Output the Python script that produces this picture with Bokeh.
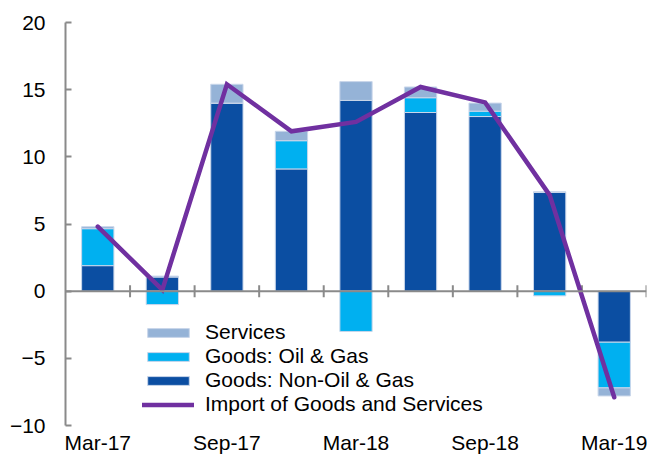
import numpy as np
from bokeh.plotting import figure
from bokeh.models import (Range1d, FixedTicker, Span, Legend, LegendItem,
                          ColumnDataSource)
from bokeh.embed import file_html
from bokeh.resources import INLINE

# ---- data ----
quarters = ["Mar-17", "Jun-17", "Sep-17", "Dec-17", "Mar-18",
            "Jun-18", "Sep-18", "Dec-18", "Mar-19"]
non_oil_gas = [1.9, 1.05, 14.0, 9.1, 14.2, 13.3, 13.0, 7.35, -3.8]
oil_gas = [2.75, -1.0, 0.0, 2.1, -3.0, 1.1, 0.4, -0.35, -3.4]
services = [0.15, 0.07, 1.4, 0.7, 1.4, 0.8, 0.6, 0.05, -0.6]
imports_total = [4.8, 0.1, 15.4, 11.9, 12.6, 15.2, 14.05, 7.15, -7.9]
shown_labels = ["Mar-17", "Sep-17", "Mar-18", "Sep-18", "Mar-19"]

series_names = ["Goods: Non-Oil & Gas", "Goods: Oil & Gas", "Services"]
series_values = [non_oil_gas, oil_gas, services]
series_colors = ["#0b4ea2", "#00b0f0", "#95b3d7"]

FONT = "Liberation Sans"
FS = "21px"
GRAY = "#8a8a8a"

n = len(quarters)
xs = np.arange(n) + 0.5

p = figure(width=647, height=456, output_backend="svg", toolbar_location=None,
           x_range=Range1d(0, n), y_range=Range1d(-10, 20),
           min_border_left=65, min_border_right=1, min_border_top=22,
           min_border_bottom=0)
p.outline_line_color = None
p.xgrid.visible = False
p.ygrid.visible = False
p.background_fill_color = "white"

# stacked bars (positives and negatives stacked separately)
pos_base = np.zeros(n)
neg_base = np.zeros(n)
bar_renderers = {}
for name, vals, col in zip(series_names, series_values, series_colors):
    v = np.array(vals, dtype=float)
    bottom = np.where(v >= 0, pos_base, neg_base)
    top = bottom + v
    src = ColumnDataSource(dict(x=xs, bottom=bottom, top=top))
    r = p.vbar(x="x", bottom="bottom", top="top", width=0.5, source=src,
               fill_color=col, line_color="#c9d6ea", line_width=1)
    bar_renderers[name] = r
    pos_base = np.where(v >= 0, top, pos_base)
    neg_base = np.where(v < 0, top, neg_base)

# zero line with boundary ticks
p.add_layout(Span(location=0, dimension="width", line_color=GRAY, line_width=2))
p.scatter(x=np.arange(1, n + 1), y=np.zeros(n), marker="dash", angle=np.pi / 2,
          size=12, line_color=GRAY, line_width=2)

line_r = p.line(xs, imports_total, line_color="#7030a0", line_width=4.5,
                line_join="miter", line_cap="round")

# axes
yax = p.yaxis[0]
yax.ticker = FixedTicker(ticks=[-10, -5, 0, 5, 10, 15, 20])
yax.axis_line_color = GRAY
yax.axis_line_width = 2
yax.major_tick_line_color = GRAY
yax.major_tick_line_width = 2
yax.major_tick_in = 6
yax.major_tick_out = 0
yax.minor_tick_line_color = None
yax.major_label_standoff = 20
yax.major_label_text_font = FONT
yax.major_label_text_font_size = FS
yax.major_label_text_color = "black"

xax = p.xaxis[0]
label_pos = [float(xs[quarters.index(q)]) for q in shown_labels]
xax.ticker = FixedTicker(ticks=label_pos)
xax.major_label_overrides = {pos: q for pos, q in zip(label_pos, shown_labels)}
xax.axis_line_color = None
xax.major_tick_line_color = None
xax.minor_tick_line_color = None
xax.major_tick_in = 0
xax.major_tick_out = 0
xax.major_label_standoff = 5
xax.major_label_text_font = FONT
xax.major_label_text_font_size = FS
xax.major_label_text_color = "black"

legend = Legend(items=[
    LegendItem(label="Services", renderers=[bar_renderers["Services"]]),
    LegendItem(label="Goods: Oil & Gas", renderers=[bar_renderers["Goods: Oil & Gas"]]),
    LegendItem(label="Goods: Non-Oil & Gas", renderers=[bar_renderers["Goods: Non-Oil & Gas"]]),
    LegendItem(label="Import of Goods and Services", renderers=[line_r]),
], location=(77, 9))
legend.background_fill_alpha = 0
legend.border_line_color = None
legend.padding = 0
legend.margin = 0
legend.spacing = 0
legend.glyph_width = 52
legend.glyph_height = 11
legend.label_height = 18
legend.label_standoff = 11
legend.label_text_font = FONT
legend.label_text_font_size = FS
legend.label_text_color = "black"
p.add_layout(legend, "center")

open("out.html", "w").write(file_html(p, INLINE))
